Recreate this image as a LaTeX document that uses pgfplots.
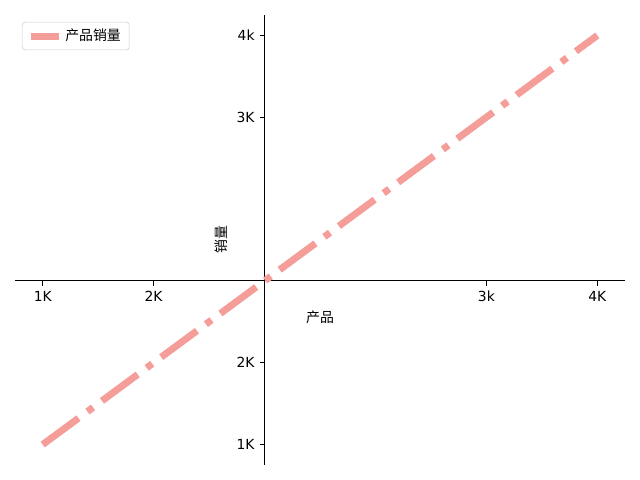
\documentclass[border=0pt]{standalone}
\usepackage{pgfplots}
\pgfplotsset{compat=1.18}
\usepackage{fontspec}
\setmainfont{DejaVu Sans}
\newfontfamily\cjk{Noto Sans CJK SC}
\definecolor{salesline}{RGB}{245,157,152}
\definecolor{legendedge}{RGB}{204,204,204}
\begin{document}
\fontsize{10bp}{12bp}\selectfont
\begin{tikzpicture}
\useasboundingbox (0,0) rectangle (6.4in,4.8in);
\begin{axis}[
    at={(0.15in,0.15in)}, anchor=south west,
    scale only axis, width=6.10in, height=4.50in,
    axis lines=center, axis line style={-, line width=0.8bp},
    xmin=-2.25, xmax=3.25, ymin=-2.25, ymax=3.25,
    xtick={-2,-1,2,3}, xticklabels={1K,2K,3k,4K},
    ytick={-2,-1,2,3}, yticklabels={1K,2K,3K,4k},
    tick align=outside, major tick length=3.5bp,
    every tick/.style={black, line width=0.8bp},
    tick label style={font=\fontsize{10bp}{12bp}\selectfont, inner sep=0pt},
    xticklabel style={yshift=-3.5bp},
    yticklabel style={xshift=-3.5bp},
    xlabel={产品}, ylabel={销量},
    every axis x label/.style={at={(rel axis cs:0.5,0.329)}, anchor=center, font=\cjk\fontsize{10bp}{12bp}\selectfont},
    every axis y label/.style={at={(rel axis cs:0.3377,0.5)}, anchor=center, rotate=90, font=\cjk\fontsize{10bp}{12bp}\selectfont},
    legend style={at={(rel axis cs:0,1)}, anchor=north west, xshift=5bp, yshift=-5bp,
        draw=legendedge, rounded corners=2bp, fill=white, fill opacity=0.8, text opacity=1,
        font=\cjk\fontsize{10bp}{12bp}\selectfont, inner xsep=4bp, inner ysep=3bp},
    legend image code/.code={\draw[#1, solid] (0bp,0bp) -- (20bp,0bp);},
]
\addplot[salesline, line width=5bp, line cap=butt,
    dash pattern=on 32bp off 8bp on 5bp off 8bp]
    coordinates {(-2,-2) (3,3)};
\addlegendentry{产品销量}
\end{axis}
\end{tikzpicture}
\end{document}
